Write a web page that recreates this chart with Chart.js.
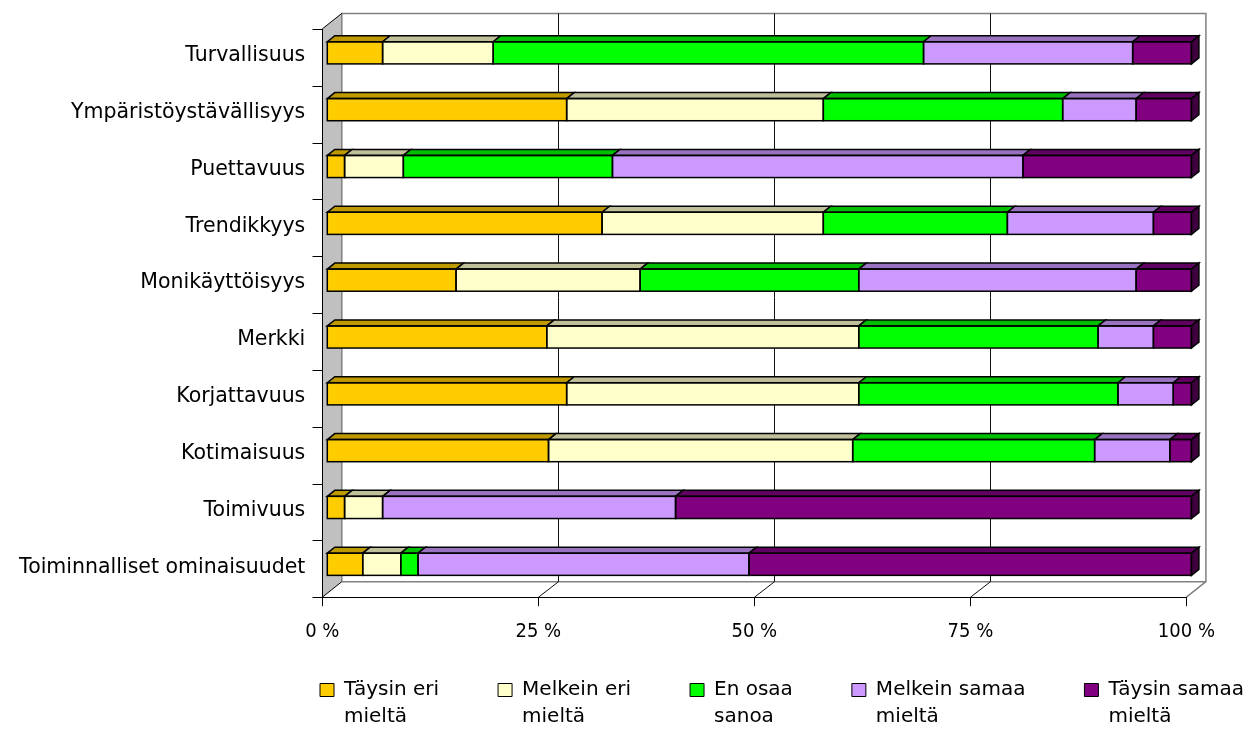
<!DOCTYPE html>
<html>
<head>
<meta charset="utf-8">
<title>Ominaisuuksien arviointi</title>
<style>
  html, body { margin: 0; padding: 0; background: #ffffff; }
  #wrap { width: 1247px; height: 729px; position: relative; }
</style>
<script src="https://cdn.jsdelivr.net/npm/chart.js@4.4.0/dist/chart.umd.min.js"></script>
</head>
<body>
<div id="wrap"><canvas id="chart"></canvas></div>
<script>
// Rated properties, top to bottom
const categories = [
  'Turvallisuus',
  'Ympäristöystävällisyys',
  'Puettavuus',
  'Trendikkyys',
  'Monikäyttöisyys',
  'Merkki',
  'Korjattavuus',
  'Kotimaisuus',
  'Toimivuus',
  'Toiminnalliset ominaisuudet'
];

// Share of answers (%) per response option
const taysinEri    = [6.4, 27.7, 2.0, 31.8, 14.9, 25.4, 27.7, 25.6, 2.0, 4.1];
const melkeinEri   = [12.8, 29.7, 6.8, 25.6, 21.3, 36.1, 33.8, 35.2, 4.4, 4.4];
const enOsaa       = [49.8, 27.7, 24.2, 21.3, 25.3, 27.7, 30.0, 28.0, 0, 2.0];
const melkeinSamaa = [24.2, 8.5, 47.5, 16.9, 32.1, 6.4, 6.4, 8.7, 33.9, 38.3];
const taysinSamaa  = [6.8, 6.4, 19.5, 4.4, 6.4, 4.4, 2.1, 2.5, 59.7, 51.2];

const seriesNames = [
  'Täysin eri mieltä',
  'Melkein eri mieltä',
  'En osaa sanoa',
  'Melkein samaa mieltä',
  'Täysin samaa mieltä'
];
const seriesValues = [taysinEri, melkeinEri, enOsaa, melkeinSamaa, taysinSamaa];
const seriesColors = ['#FFCC00', '#FFFFCC', '#00FF00', '#CC99FF', '#800080'];

const xTickValues = [0, 25, 50, 75, 100];

// Drawing constants for the pseudo-3D look
const FONT = 'DejaVu Sans';
const BAR_DEPTH = { dx: 7.5, dy: 6 };
const FRONT = { dx: -5, dy: 4.5 };
const BACK = { dx: 14.5, dy: -11 };
const LEGEND_FONT = 20;
const LEGEND_LINE = 27;

function shade(hex, f) {
  const n = parseInt(hex.slice(1), 16);
  const r = Math.round(((n >> 16) & 255) * f);
  const g = Math.round(((n >> 8) & 255) * f);
  const b = Math.round((n & 255) * f);
  return `rgb(${r},${g},${b})`;
}

function polygon(ctx, pts, fill) {
  ctx.beginPath();
  ctx.moveTo(pts[0][0], pts[0][1]);
  for (let i = 1; i < pts.length; i++) ctx.lineTo(pts[i][0], pts[i][1]);
  ctx.closePath();
  if (fill) { ctx.fillStyle = fill; ctx.fill(); }
  ctx.stroke();
}

// Split "Täysin eri mieltä" into a first line and a second line
function splitName(name) {
  const cut = name.lastIndexOf(' ');
  return [name.slice(0, cut), name.slice(cut + 1)];
}

// Walls, floor, gridlines, tick marks and bar depth
const frame3d = {
  id: 'frame3d',
  afterLayout(chart) {
    const lg = chart.legend;
    if (!lg) return;
    const pad = lg.options.labels.padding;
    lg.left = 320 - pad;
    lg.right = chart.width + 200;
    lg.top = 680 - pad;
  },
  beforeDatasetsDraw(chart) {
    const { ctx, chartArea: a, scales } = chart;
    const x = scales.x, y = scales.y;
    const fy = a.bottom + FRONT.dy;
    const by = a.bottom + BACK.dy;
    const topB = a.top + BACK.dy;
    const topF = a.top + FRONT.dy;
    const fx = v => x.getPixelForValue(v) + FRONT.dx;
    const bx = v => x.getPixelForValue(v) + BACK.dx;

    ctx.save();
    // side wall
    ctx.fillStyle = '#C0C0C0';
    ctx.beginPath();
    ctx.moveTo(fx(0), topF);
    ctx.lineTo(bx(0), topB);
    ctx.lineTo(bx(0), by);
    ctx.lineTo(fx(0), fy);
    ctx.closePath();
    ctx.fill();

    // back wall and floor outline
    ctx.strokeStyle = '#808080';
    ctx.lineWidth = 1.5;
    ctx.beginPath();
    ctx.moveTo(bx(0), by);
    ctx.lineTo(bx(0), topB);
    ctx.lineTo(bx(100), topB);
    ctx.lineTo(bx(100), by);
    ctx.lineTo(fx(100), fy);
    ctx.moveTo(bx(0), by);
    ctx.lineTo(bx(100), by);
    ctx.stroke();

    // vertical gridlines on the back wall, continued across the floor
    ctx.strokeStyle = '#111';
    ctx.lineWidth = 1;
    xTickValues.forEach(v => {
      if (v === 0 || v === 100) return;
      const px = Math.round(bx(v)) + 0.5;
      ctx.beginPath();
      ctx.moveTo(px, topB);
      ctx.lineTo(px, by);
      ctx.lineTo(Math.round(fx(v)) + 0.5, fy);
      ctx.stroke();
    });

    // floor front edge and x tick marks
    ctx.strokeStyle = '#000';
    ctx.lineWidth = 1;
    ctx.beginPath();
    ctx.moveTo(fx(0), Math.round(fy) + 0.5);
    ctx.lineTo(fx(100), Math.round(fy) + 0.5);
    xTickValues.forEach(v => {
      const px = Math.round(fx(v)) + 0.5;
      ctx.moveTo(px, fy);
      ctx.lineTo(px, fy + 9);
    });
    ctx.stroke();

    // side wall front edge, top edge and floor edge, category tick marks
    ctx.beginPath();
    const lx = Math.round(fx(0)) + 0.5;
    ctx.moveTo(lx, topF);
    ctx.lineTo(lx, fy);
    ctx.moveTo(fx(0), topF);
    ctx.lineTo(bx(0), topB);
    ctx.moveTo(fx(0), fy);
    ctx.lineTo(bx(0), by);
    for (let k = 0; k <= categories.length; k++) {
      const py = Math.round(y.getPixelForValue(k - 0.5) + FRONT.dy) + 0.5;
      ctx.moveTo(lx - 10, py);
      ctx.lineTo(lx, py);
    }
    ctx.stroke();
    ctx.restore();
  },
  afterDatasetsDraw(chart) {
    const ctx = chart.ctx;
    const { dx, dy } = BAR_DEPTH;
    ctx.save();
    ctx.lineWidth = 1.5;
    ctx.strokeStyle = '#000';
    ctx.lineJoin = 'miter';
    for (let i = 0; i < chart.data.labels.length; i++) {
      const segs = [];
      chart.data.datasets.forEach((ds, j) => {
        const el = chart.getDatasetMeta(j).data[i];
        if (!el || !ds.data[i]) return;
        const p = el.getProps(['x', 'y', 'base', 'height'], true);
        segs.push({
          l: Math.min(p.x, p.base), r: Math.max(p.x, p.base),
          t: p.y - p.height / 2, b: p.y + p.height / 2,
          c: ds.backgroundColor
        });
      });
      segs.forEach((s, k) => {
        polygon(ctx, [[s.l, s.t], [s.l + dx, s.t - dy], [s.r + dx, s.t - dy], [s.r, s.t]], shade(s.c, 0.75));
        if (k === segs.length - 1) {
          polygon(ctx, [[s.r, s.t], [s.r + dx, s.t - dy], [s.r + dx, s.b - dy], [s.r, s.b]], shade(s.c, 0.5));
        }
        ctx.strokeRect(s.l, s.t, s.r - s.l, s.b - s.t);
      });
    }
    ctx.restore();
  },
  afterDraw(chart) {
    // second line of each legend entry, under the first one
    const lg = chart.legend;
    if (!lg || !lg.legendHitBoxes) return;
    const ctx = chart.ctx;
    const lab = lg.options.labels;
    ctx.save();
    ctx.font = `${LEGEND_FONT}px "${FONT}"`;
    ctx.fillStyle = '#000';
    ctx.textBaseline = 'middle';
    ctx.textAlign = 'left';
    lg.legendItems.forEach((item, i) => {
      const hb = lg.legendHitBoxes[i];
      if (!hb || !item.secondLine) return;
      const tx = hb.left + lab.boxWidth + LEGEND_FONT / 2;
      const ty = hb.top + Math.max(LEGEND_FONT, lab.boxHeight) / 2 + LEGEND_LINE;
      ctx.fillText(item.secondLine, tx, ty);
    });
    ctx.restore();
  }
};

Chart.defaults.font.family = FONT;
Chart.defaults.color = '#000';

new Chart(document.getElementById('chart'), {
  type: 'bar',
  data: {
    labels: categories,
    datasets: seriesNames.map((name, j) => ({
      label: name,
      data: seriesValues[j],
      backgroundColor: seriesColors[j],
      borderWidth: 0,
      barPercentage: 0.39,
      categoryPercentage: 1
    }))
  },
  options: {
    indexAxis: 'y',
    responsive: true,
    maintainAspectRatio: false,
    animation: false,
    events: [],
    layout: { padding: { top: 24.4, right: 53, left: 0, bottom: 0 } },
    scales: {
      x: {
        stacked: true,
        min: 0,
        max: 100,
        grid: { display: false, drawTicks: false },
        border: { display: false },
        afterFit(s) {
          const lg = s.chart.legend;
          s.height = s.chart.height - 592.7 - (lg ? lg.height : 0);
        },
        ticks: {
          stepSize: 25,
          padding: 27,
          labelOffset: -5,
          maxRotation: 0,
          font: { size: 20, family: 'DejaVu Sans Condensed' },
          callback: v => v + ' %'
        }
      },
      y: {
        stacked: true,
        grid: { display: false, drawTicks: false },
        border: { display: false },
        afterFit(s) {
          s.width = 327.3;
          s.paddingTop = 0;
          s.paddingBottom = 0;
        },
        ticks: {
          padding: 22,
          labelOffset: 3,
          font: { size: 20.5 }
        }
      }
    },
    plugins: {
      tooltip: { enabled: false },
      legend: {
        position: 'bottom',
        align: 'start',
        maxHeight: 60,
        labels: {
          boxWidth: 14,
          boxHeight: 13,
          padding: 59,
          font: { size: LEGEND_FONT },
          color: '#000',
          generateLabels(chart) {
            return chart.data.datasets.map((ds, j) => {
              const lines = splitName(ds.label);
              return {
                text: lines[0],
                secondLine: lines[1],
                fillStyle: ds.backgroundColor,
                strokeStyle: '#000',
                lineWidth: 1,
                hidden: false,
                datasetIndex: j
              };
            });
          }
        }
      }
    }
  },
  plugins: [frame3d]
});
</script>
</body>
</html>
